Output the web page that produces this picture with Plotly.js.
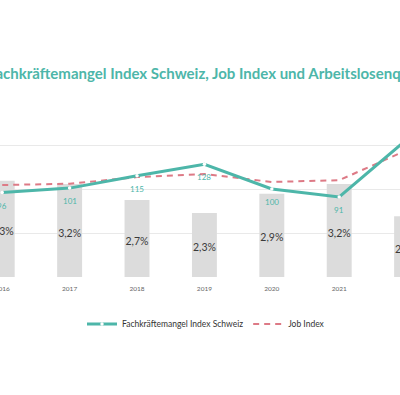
<!DOCTYPE html>
<html>
<head>
<meta charset="utf-8">
<script src="https://cdn.plot.ly/plotly-3.0.1.min.js"></script>
<style>
html,body{margin:0;padding:0;background:#fff;}
#chart{width:400px;height:395px;}
</style>
</head>
<body>
<div id="chart"></div>
<script>
const years = [2016, 2017, 2018, 2019, 2020, 2021, 2022];
const fachkraefteIndex = [96, 101, 115, 128, 100, 91, 156];
const jobIndex = [104.5, 106, 113.5, 117, 108, 110, 144];
const arbeitslosenquote = [3.3, 3.2, 2.7, 2.3, 2.9, 3.2, 2.2];
const titleText = 'Fachkräftemangel Index Schweiz, Job Index und Arbeitslosenquote';

const teal = '#4db6a9';
const pink = '#dd7a86';
const fontFam = 'Lato, "Open Sans", sans-serif';

const pctText = arbeitslosenquote.map(v => v.toFixed(1).replace('.', ',') + '%');

const traces = [
  {
    type: 'bar', x: years, y: arbeitslosenquote, yaxis: 'y',
    width: 0.37, marker: {color: '#dcdcdc'}, showlegend: false, hoverinfo: 'skip'
  },
  {
    type: 'scatter', mode: 'text', x: years, y: arbeitslosenquote.map(v => v * 0.5 + 0.05),
    yaxis: 'y', text: pctText, textposition: 'middle center',
    textfont: {family: fontFam, size: 10.5, color: '#3a3a3a'}, showlegend: false, hoverinfo: 'skip'
  },
  {
    type: 'scatter', mode: 'lines', name: 'Job Index', x: years, y: jobIndex, yaxis: 'y2',
    line: {color: pink, width: 2, dash: '6px,5px'}
  },
  {
    type: 'scatter', mode: 'lines+markers', name: 'Fachkräftemangel Index Schweiz',
    x: years, y: fachkraefteIndex, yaxis: 'y2',
    line: {color: teal, width: 3},
    marker: {color: '#ffffff', size: 3.5, line: {width: 0}}
  }
];

const valueLabels = years.map((yr, i) => ({
  text: String(fachkraefteIndex[i]), x: yr, y: fachkraefteIndex[i], xref: 'x', yref: 'y2',
  showarrow: false, yshift: -13, xanchor: 'center', yanchor: 'middle',
  font: {family: fontFam, size: 8, color: teal}
}));

const layout = {
  width: 400, height: 395,
  margin: {l: 0, r: 0, t: 101, b: 118, pad: 0},
  paper_bgcolor: '#ffffff', plot_bgcolor: '#ffffff',
  font: {family: fontFam, color: '#333'},
  xaxis: {
    range: [2015.967, 2021.902], tickmode: 'array', tickvals: years, ticktext: years.map(String),
    ticks: '', showline: false, showgrid: false, zeroline: false, ticklabelstandoff: 6,
    ticklabeloverflow: 'allow',
    tickfont: {family: fontFam, size: 6.5, color: '#666'}
  },
  yaxis: {
    range: [0.31, 5.78], showgrid: false, zeroline: false, showticklabels: false, ticks: ''
  },
  yaxis2: {
    overlaying: 'y', range: [0, 200], dtick: 50, tick0: 0, showgrid: true, gridcolor: '#e9e9e9', gridwidth: 1,
    zeroline: false, showticklabels: false, ticks: '', side: 'left'
  },
  showlegend: true,
  legend: {
    orientation: 'h', x: 0.205, xanchor: 'left', y: -0.267, yanchor: 'middle',
    font: {family: fontFam, size: 8.5, color: '#333'}, traceorder: 'reversed'
  },
  annotations: [{
    text: titleText, xref: 'paper', yref: 'paper', x: 0.524, xanchor: 'center',
    y: 1 + 28 / 176, yanchor: 'middle', showarrow: false,
    font: {family: fontFam, size: 15, color: teal, weight: 'bold'}
  }].concat(valueLabels)
};

Plotly.newPlot('chart', traces, layout, {displayModeBar: false, staticPlot: true});
</script>
</body>
</html>
